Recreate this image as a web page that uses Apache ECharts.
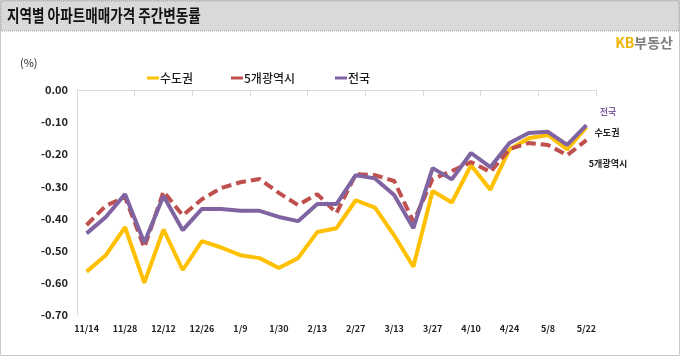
<!DOCTYPE html>
<html>
<head>
<meta charset="utf-8">
<script src="https://cdn.jsdelivr.net/npm/echarts@6/dist/echarts.min.js"></script>
<style>
html,body{margin:0;padding:0;background:#fff;}
#c{width:680px;height:356px;}
</style>
</head>
<body>
<div id="c"></div>
<script>
var categories = ['11/14','11/21','11/28','12/5','12/12','12/19','12/26','1/2','1/9','1/16','1/30','2/6','2/13','2/20','2/27','3/6','3/13','3/20','3/27','4/3','4/10','4/17','4/24','5/1','5/8','5/15','5/22'];
var sudogwon = [-0.565,-0.514,-0.427,-0.60,-0.434,-0.56,-0.47,-0.49,-0.514,-0.523,-0.554,-0.523,-0.442,-0.43,-0.343,-0.366,-0.452,-0.55,-0.314,-0.35,-0.234,-0.31,-0.185,-0.15,-0.14,-0.185,-0.116];
var metro5 = [-0.42,-0.36,-0.333,-0.49,-0.316,-0.39,-0.34,-0.305,-0.287,-0.277,-0.32,-0.358,-0.324,-0.383,-0.262,-0.265,-0.283,-0.41,-0.277,-0.252,-0.224,-0.255,-0.184,-0.165,-0.171,-0.203,-0.156];
var national = [-0.446,-0.395,-0.324,-0.475,-0.33,-0.436,-0.37,-0.37,-0.376,-0.376,-0.395,-0.408,-0.355,-0.355,-0.265,-0.275,-0.327,-0.43,-0.243,-0.278,-0.196,-0.24,-0.165,-0.134,-0.13,-0.171,-0.109];
var seriesNames = ['수도권','5개광역시','전국'];
var titleText = '지역별 아파트매매가격 주간변동률';

var FONT = '"Noto Sans CJK KR","Noto Sans",sans-serif';
var COLORS = ['#FFC000','#C0504D','#8064A2'];

var chart = echarts.init(document.getElementById('c'));
function legendFor(i, left){
  return {
    data:[seriesNames[i]], left:left, top:67, itemWidth:12, itemHeight:3, icon:'rect',
    textStyle:{fontFamily:FONT, fontSize:12, fontWeight:500, color:'#1a1a1a', padding:[0,0,0,-4]}
  };
}
chart.setOption({
  animation:false,
  backgroundColor:'#fff',
  legend:[legendFor(0,142), legendFor(1,226), legendFor(2,330)],
  grid:{left:77, right:84, top:90, bottom:41, containLabel:false},
  xAxis:[
    {type:'category', data:categories, position:'top', boundaryGap:true,
     axisLine:{onZero:false, lineStyle:{color:'#d9d9d9', width:1}},
     axisTick:{show:true, inside:true, length:6, lineStyle:{color:'#d9d9d9'}},
     axisLabel:{show:false}, splitLine:{show:false}},
    {type:'category', data:categories, position:'bottom', boundaryGap:true,
     axisLine:{show:false}, axisTick:{show:false},
     axisLabel:{interval:1, margin:9, fontFamily:FONT, fontSize:9, fontWeight:'bold', color:'#222'},
     splitLine:{show:false}}
  ],
  yAxis:{type:'value', min:-0.7, max:0, interval:0.1,
    axisLine:{show:true, lineStyle:{color:'#d9d9d9'}},
    axisTick:{show:false}, splitLine:{show:false},
    axisLabel:{margin:9, fontFamily:FONT, fontSize:11, fontWeight:'bold', color:'#222',
      formatter:function(v){return v.toFixed(2);}}
  },
  series:[
    {name:seriesNames[0], type:'line', data:sudogwon, xAxisIndex:0, symbol:'none',
     lineStyle:{color:COLORS[0], width:4}, itemStyle:{color:COLORS[0]}},
    {name:seriesNames[1], type:'line', data:metro5, xAxisIndex:0, symbol:'none',
     lineStyle:{color:COLORS[1], width:4, type:[10,5]}, itemStyle:{color:COLORS[1]}},
    {name:seriesNames[2], type:'line', data:national, xAxisIndex:0, symbol:'none',
     lineStyle:{color:COLORS[2], width:4}, itemStyle:{color:COLORS[2]}}
  ],
  graphic:[
    {type:'rect', shape:{x:0.5,y:0.5,width:679,height:355}, style:{fill:'none', stroke:'#c8c8c8', lineWidth:1}, silent:true, z:-1},
    {type:'rect', shape:{x:1,y:1,width:678,height:30}, style:{fill:'#d9d9d9', stroke:'#a6a6a6', lineWidth:1, lineDash:[1,1]}, silent:true},
    {type:'text', x:7, y:16, scaleX:0.8, originX:0, originY:0,
     style:{text:titleText, fontFamily:FONT, fontSize:17, fontWeight:'bold', fill:'#111', verticalAlign:'middle'}},
    {type:'text', right:7, top:36,
     style:{text:'{a|KB}{b|부동산}', rich:{a:{fontFamily:FONT, fontSize:14, fontWeight:'bold', fill:'#F0B400', color:'#F0B400'}, b:{fontFamily:FONT, fontSize:14, fontWeight:'bold', fill:'#7f7f7f', color:'#7f7f7f'}}, fontSize:14}},
    {type:'text', x:20, y:57, style:{text:'(%)', fontFamily:FONT, fontSize:11, fill:'#222'}},
    {type:'text', x:608, y:112, style:{text:seriesNames[2], fontFamily:FONT, fontSize:9, fontWeight:'bold', fill:COLORS[2], align:'center', verticalAlign:'middle'}},
    {type:'text', x:607, y:133, style:{text:seriesNames[0], fontFamily:FONT, fontSize:9, fontWeight:'bold', fill:'#222', align:'center', verticalAlign:'middle'}},
    {type:'text', x:608, y:164, style:{text:seriesNames[1], fontFamily:FONT, fontSize:9, fontWeight:'bold', fill:'#222', align:'center', verticalAlign:'middle'}}
  ]
});
</script>
</body>
</html>
